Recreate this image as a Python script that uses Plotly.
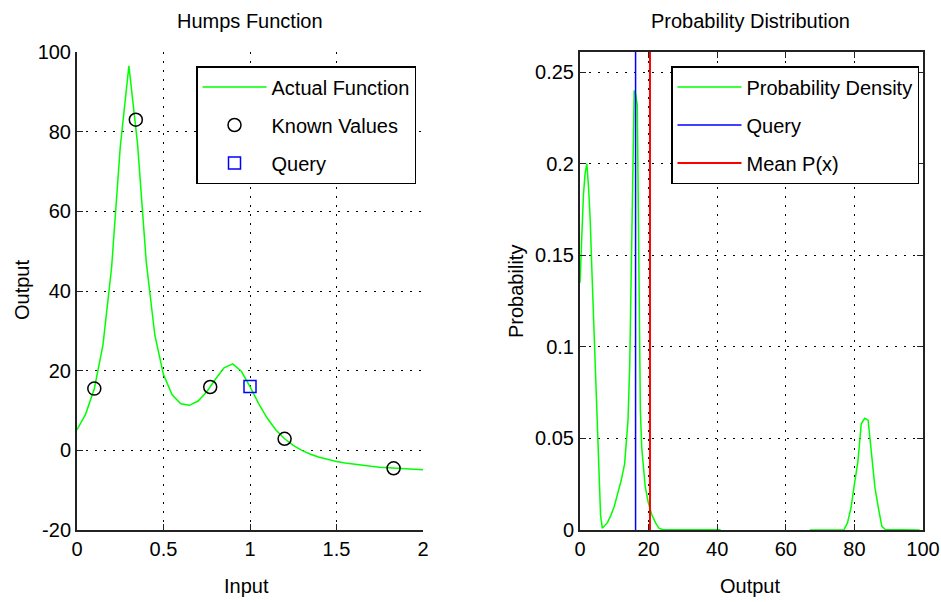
import plotly.graph_objects as go

# ---- Humps function samples (input step 0.05) ----
hump_x = [0.00, 0.05, 0.10, 0.15, 0.20, 0.25, 0.30, 0.35, 0.40, 0.45,
          0.50, 0.55, 0.60, 0.65, 0.70, 0.75, 0.80, 0.85, 0.90, 0.95,
          1.00, 1.05, 1.10, 1.15, 1.20, 1.25, 1.30, 1.35, 1.40, 1.45,
          1.50, 1.55, 1.60, 1.65, 1.70, 1.75, 1.80, 1.85, 1.90, 1.95, 2.00]
hump_y = [5.18, 9.10, 15.47, 26.43, 45.89, 76.16, 96.50, 76.92, 47.45, 28.89,
          19.00, 13.95, 11.69, 11.30, 12.38, 14.71, 17.85, 20.73, 21.70, 19.84,
          16.00, 11.75, 8.04, 5.12, 2.91, 1.25, -0.01, -0.98, -1.73, -2.33,
          -2.81, -3.20, -3.52, -3.79, -4.02, -4.22, -4.38, -4.52, -4.65, -4.76, -4.86]

known_x = [0.10, 0.34, 0.77, 1.20, 1.83]
known_y = [15.5, 83.0, 15.9, 2.9, -4.5]

query_x = [1.0]
query_y = [16.0]

# ---- Probability density of the output ----
dens_x = [0, 0.5, 1, 1.5, 2, 2.5, 3, 3.5, 4, 4.5, 5, 5.5, 6, 6.5, 7, 8, 9, 10,
          11, 12, 13, 14, 14.5, 15, 15.5, 15.8, 16.2, 16.7, 17, 17.3, 17.6, 18,
          18.5, 19, 19.9, 21, 22, 23, 24, 30, 35, 41, None,
          67, 72, 77, 78, 79, 80, 81, 82, 83, 84, 85, 86, 87, 88, 89, 94, 99]
dens_y = [0.135, 0.160, 0.183, 0.195, 0.200, 0.187, 0.168, 0.140, 0.115, 0.090,
          0.063, 0.035, 0.008, 0.001, 0.002, 0.004, 0.008, 0.013,
          0.020, 0.027, 0.036, 0.060, 0.090, 0.145, 0.200, 0.240, 0.238, 0.232,
          0.175, 0.120, 0.065, 0.045,
          0.033, 0.024, 0.015, 0.008, 0.004, 0.001, 0.0003, 0.0002, 0.0001, 0.0001, None,
          0.0, 0.0, 0.0002, 0.004, 0.012, 0.025, 0.037, 0.058, 0.061, 0.060, 0.040,
          0.023, 0.012, 0.002, 0.0003, 0.0001, 0.0]

query_output = 16.2
mean_output = 20.4
prob_top = 0.261

left_yticks = [-20, 0, 20, 40, 60, 80, 100]
left_yticklabels = ["-20", "0", "20", "40", "60", "80", "100"]
left_xticks = [0, 0.5, 1, 1.5, 2]
left_xticklabels = ["0", "0.5", "1", "1.5", "2"]
right_xticks = [0, 20, 40, 60, 80, 100]
right_yticks = [0, 0.05, 0.1, 0.15, 0.2, 0.25]
right_yticklabels = ["0", "0.05", "0.1", "0.15", "0.2", "0.25"]

W, H = 941, 602
FONT = "Liberation Sans Narrow, Arial Narrow, Liberation Sans, Arial, sans-serif"
FS = 20

fig = go.Figure()

fig.add_trace(go.Scatter(x=hump_x, y=hump_y, mode="lines", name="Actual Function",
                         line=dict(color="#00ff00", width=1.5), legendgroup="a",
                         xaxis="x", yaxis="y", legend="legend"))
fig.add_trace(go.Scatter(x=known_x, y=known_y, mode="markers", name="Known Values",
                         marker=dict(symbol="circle-open", size=13, color="black",
                                     line=dict(width=1.5)), legendgroup="b",
                         xaxis="x", yaxis="y", legend="legend"))
fig.add_trace(go.Scatter(x=query_x, y=query_y, mode="markers", name="Query",
                         marker=dict(symbol="square-open", size=12, color="#0000ff",
                                     line=dict(width=1.5)), legendgroup="c",
                         xaxis="x", yaxis="y", legend="legend"))

fig.add_trace(go.Scatter(x=dens_x, y=dens_y, mode="lines", name="Probability Density",
                         line=dict(color="#00ff00", width=1.5), connectgaps=False,
                         legendgroup="d", xaxis="x2", yaxis="y2", legend="legend2"))
fig.add_trace(go.Scatter(x=[query_output, query_output], y=[0, prob_top], mode="lines",
                         name="Query", line=dict(color="#0000ff", width=1.5),
                         legendgroup="e", xaxis="x2", yaxis="y2", legend="legend2"))
fig.add_trace(go.Scatter(x=[mean_output, mean_output], y=[0, prob_top], mode="lines",
                         name="Mean P(x)", line=dict(color="#ff0000", width=2),
                         legendgroup="f", xaxis="x2", yaxis="y2", legend="legend2"))

grid = dict(showgrid=True, gridcolor="black", gridwidth=1, griddash="2px,7px",
            zeroline=False, ticks="inside", ticklen=6, tickcolor="#222",
            tickfont=dict(family=FONT, size=FS, color="black"),
            showline=True, linecolor="#222", linewidth=2, automargin=False)

ytop = 1 - 52 / H
ybot = 1 - 530 / H

legend_style = dict(xanchor="left", yanchor="top", bgcolor="white",
                    bordercolor="black", borderwidth=1.5, itemwidth=64,
                    font=dict(family=FONT, size=FS), tracegroupgap=9)

fig.update_layout(
    width=W, height=H,
    margin=dict(l=0, r=0, t=0, b=0, autoexpand=False),
    paper_bgcolor="white", plot_bgcolor="white",
    font=dict(family=FONT, size=FS, color="black"),
    showlegend=True,
    xaxis=dict(domain=[77 / W, 423 / W], range=[0, 2], tickvals=left_xticks,
               ticktext=left_xticklabels, anchor="y", **grid),
    yaxis=dict(domain=[ybot, ytop], range=[-20, 100], tickvals=left_yticks,
               ticktext=left_yticklabels, anchor="x", **grid),
    xaxis2=dict(domain=[580 / W, 923 / W], range=[0, 100], tickvals=right_xticks,
                anchor="y2", mirror="ticks", **grid),
    yaxis2=dict(domain=[ybot, ytop], range=[0, prob_top], tickvals=right_yticks,
                ticktext=right_yticklabels, anchor="x2", mirror="ticks", **grid),
    legend=dict(x=196 / W, y=1 - 66 / H, **legend_style),
    legend2=dict(x=671 / W, y=1 - 66 / H, **legend_style),
)

# Titles and axis labels
labels = [
    ("Humps Function", 250, 21, 0),
    ("Input", 247, 586, 0),
    ("Output", 22, 290, -90),
    ("Probability Distribution", 750, 21, 0),
    ("Output", 750, 586, 0),
    ("Probability", 516, 292, -90),
]
for text, px, py, ang in labels:
    fig.add_annotation(text=text, x=px / W, y=1 - py / H, xref="paper", yref="paper",
                       showarrow=False, textangle=ang, xanchor="center", yanchor="middle",
                       font=dict(family=FONT, size=FS, color="black"))

fig.write_html("out.html")
